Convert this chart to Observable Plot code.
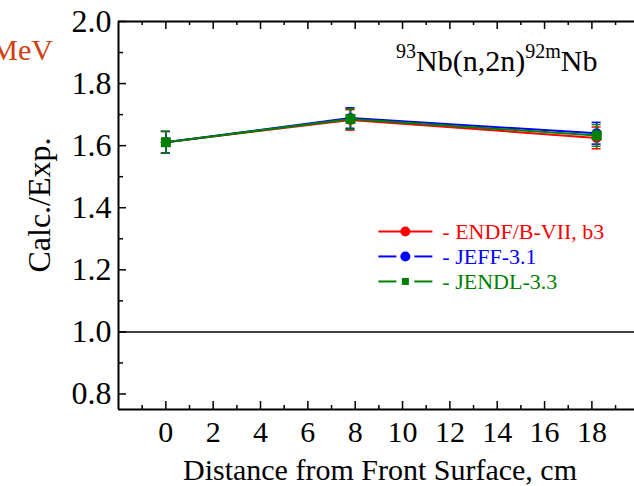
<!DOCTYPE html>
<html>
<head>
<meta charset="utf-8">
<script src="https://cdn.jsdelivr.net/npm/d3@7"></script>
<script src="https://cdn.jsdelivr.net/npm/@observablehq/plot@0.6"></script>
<style>
  html, body { margin: 0; padding: 0; background: #fff; }
  #chart { width: 634px; height: 486px; overflow: hidden; }
  svg { display: block; }
</style>
</head>
<body>
<div id="chart"></div>
<script>
// ---- data ----
const distances = [0, 7.8, 18.2];
const endfValues = [1.611, 1.683, 1.625];
const jeffValues = [1.611, 1.689, 1.640];
const jendlValues = [1.611, 1.686, 1.633];
const errors = [0.035, 0.033, 0.035];

const seriesNames = ["- ENDF/B-VII, b3", "- JEFF-3.1", "- JENDL-3.3"];
const seriesColors = ["#ff0000", "#0000ff", "#008000"];
const seriesSymbols = ["circle", "circle", "square"];
const seriesValues = [endfValues, jeffValues, jendlValues];

const xTickLabels = [0, 2, 4, 6, 8, 10, 12, 14, 16, 18];
const xMinorTicks = [-1, 1, 3, 5, 7, 9, 11, 13, 15, 17, 19];
const yTickLabels = [0.8, 1.0, 1.2, 1.4, 1.6, 1.8, 2.0];
const yMinorTicks = [0.9, 1.1, 1.3, 1.5, 1.7, 1.9];

const xTitle = "Distance from Front Surface, cm";
const yTitle = "Calc./Exp.";
const reaction = {pre: "93", a: "Nb(n,2n)", mid: "92m", b: "Nb"};
const unitText = "MeV";

// ---- build table ----
const rows = [];
seriesValues.forEach((vals, s) => {
  vals.forEach((v, i) => rows.push({series: s, x: distances[i], y: v, e: errors[i]}));
});

const W = 634, H = 486;
const mL = 118, mT = 21, mB = 77, mR = 0;
const innerW = W - mL - mR, innerH = H - mT - mB;
const xDomain = [-2, 19.8];
const yDomain = [0.75, 2.0];
const capHalf = 0.19;

const marks = [
  Plot.ruleY([1.0], {stroke: "black", strokeWidth: 1.5}),
  // axes frame
  Plot.ruleX([xDomain[0]], {stroke: "black", strokeWidth: 2}),
  Plot.ruleY([yDomain[0], yDomain[1]], {stroke: "black", strokeWidth: 2}),
  // inward ticks
  Plot.ruleX(xTickLabels, {insetTop: innerH - 8, stroke: "black", strokeWidth: 1.5}),
  Plot.ruleX(xMinorTicks, {insetTop: innerH - 4, stroke: "black", strokeWidth: 1.5}),
  Plot.ruleX(xTickLabels, {insetBottom: innerH - 8, stroke: "black", strokeWidth: 1.5}),
  Plot.ruleX(xMinorTicks, {insetBottom: innerH - 4, stroke: "black", strokeWidth: 1.5}),
  Plot.ruleY(yTickLabels, {insetRight: innerW - 8, stroke: "black", strokeWidth: 1.5}),
  Plot.ruleY(yMinorTicks, {insetRight: innerW - 5, stroke: "black", strokeWidth: 1.5}),
];

seriesValues.forEach((vals, s) => {
  const data = rows.filter(d => d.series === s);
  const c = seriesColors[s];
  marks.push(
    Plot.line(data, {x: "x", y: "y", stroke: c, strokeWidth: 2}),
    Plot.ruleX(data, {x: "x", y1: d => d.y - d.e, y2: d => d.y + d.e, stroke: c, strokeWidth: 1.5}),
    Plot.ruleY(data, {y: d => d.y - d.e, x1: d => d.x - capHalf, x2: d => d.x + capHalf, stroke: c, strokeWidth: 1.5}),
    Plot.ruleY(data, {y: d => d.y + d.e, x1: d => d.x - capHalf, x2: d => d.x + capHalf, stroke: c, strokeWidth: 1.5}),
    Plot.dot(data, {x: "x", y: "y", symbol: seriesSymbols[s], r: seriesSymbols[s] === "square" ? 5.6 : 5, fill: c, stroke: "none"})
  );
});

const plot = Plot.plot({
  width: W, height: H,
  marginLeft: mL, marginRight: mR, marginTop: mT, marginBottom: mB,
  style: {fontFamily: "'Liberation Serif', 'Times New Roman', serif", fontSize: "30px", color: "black", background: "white", overflow: "visible"},
  x: {domain: xDomain, ticks: xTickLabels, tickSize: 0, tickPadding: 11, tickFormat: d => String(d), label: null},
  y: {domain: yDomain, ticks: yTickLabels, tickSize: 0, tickPadding: 7, tickFormat: d3.format(".1f"), label: null},
  marks
});

document.getElementById("chart").appendChild(plot);

// ---- titles, reaction label, legend, cropped unit text ----
const xs = plot.scale("x"), ys = plot.scale("y");
const px = v => xs.apply ? xs.apply(v) : d3.scaleLinear(xs.domain, xs.range)(v);
const py = v => ys.apply ? ys.apply(v) : d3.scaleLinear(ys.domain, ys.range)(v);
const svg = d3.select(plot);
const ff = "'Liberation Serif', 'Times New Roman', serif";

// slightly larger y tick labels, as in the reference
svg.selectAll('[aria-label="y-axis tick label"]').attr("font-size", 32);

// axis titles
svg.append("text").attr("x", 380).attr("y", 480).attr("text-anchor", "middle")
  .attr("font-family", ff).attr("font-size", 30).attr("fill", "black").text(xTitle);
svg.append("text").attr("transform", "translate(39,205) rotate(-90)").attr("text-anchor", "middle")
  .attr("dy", "0.35em").attr("font-family", ff).attr("font-size", 32).attr("fill", "black").text(yTitle);

// reaction label
const rt = svg.append("text").attr("x", px(9.75)).attr("y", py(1.84)).attr("text-anchor", "start")
  .attr("font-family", ff).attr("font-size", 30).attr("fill", "black");
rt.append("tspan").attr("font-size", 20).attr("dy", -13).text(reaction.pre);
rt.append("tspan").attr("dy", 13).text(reaction.a);
rt.append("tspan").attr("font-size", 20).attr("dy", -13).text(reaction.mid);
rt.append("tspan").attr("dy", 13).text(reaction.b);

// legend
const lx = px(9.0), ly0 = py(1.322), rowGap = 25;
seriesNames.forEach((name, s) => {
  const y = ly0 + s * rowGap, c = seriesColors[s];
  const g = svg.append("g");
  if (s === 0) {
    g.append("line").attr("x1", lx).attr("x2", lx + 54).attr("y1", y).attr("y2", y).attr("stroke", c).attr("stroke-width", 2);
  } else {
    g.append("line").attr("x1", lx).attr("x2", lx + 18).attr("y1", y).attr("y2", y).attr("stroke", c).attr("stroke-width", 2);
    g.append("line").attr("x1", lx + 36).attr("x2", lx + 54).attr("y1", y).attr("y2", y).attr("stroke", c).attr("stroke-width", 2);
  }
  if (seriesSymbols[s] === "square") {
    g.append("rect").attr("x", lx + 27 - 3.5).attr("y", y - 3.5).attr("width", 7).attr("height", 7).attr("fill", c);
  } else {
    g.append("circle").attr("cx", lx + 27).attr("cy", y).attr("r", 5).attr("fill", c);
  }
  g.append("text").attr("x", lx + 64).attr("y", y).attr("dy", "0.35em").attr("text-anchor", "start")
    .attr("font-family", ff).attr("font-size", 22).attr("fill", c).text(name);
});

// cropped unit text at top-left
svg.append("text").attr("x", 53).attr("y", 60).attr("text-anchor", "end")
  .attr("font-family", ff).attr("font-size", 30).attr("fill", "#d0400f").text(unitText);
</script>
</body>
</html>
